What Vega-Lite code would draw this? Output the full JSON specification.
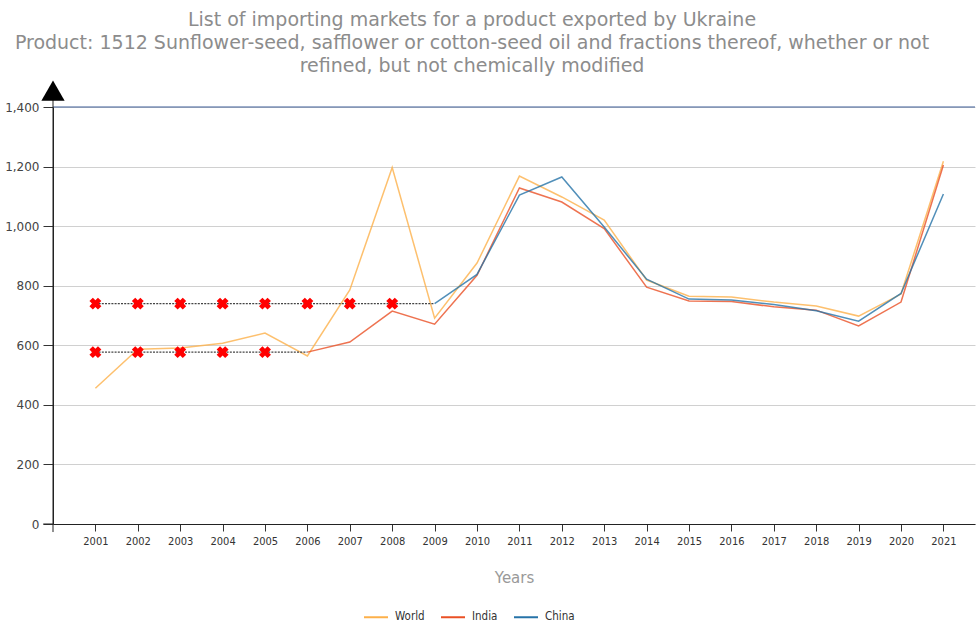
{
  "$schema": "https://vega.github.io/schema/vega-lite/v6.json",
  "width": 922,
  "height": 417,
  "autosize": {"type": "none"},
  "padding": {"left": 53, "top": 107, "right": 2, "bottom": 99},
  "background": "white",
  "title": {
    "text": [
      "List of importing markets for a product exported by Ukraine",
      "Product: 1512 Sunflower-seed, safflower or cotton-seed oil and fractions thereof, whether or not",
      "refined, but not chemically modified"
    ],
    "font": "DejaVu Sans",
    "fontSize": 19,
    "fontWeight": "normal",
    "color": "#8c8c8c",
    "anchor": "middle",
    "frame": "group",
    "dx": -42,
    "lineHeight": 23,
    "offset": 5
  },
  "config": {
    "view": {"stroke": null},
    "axis": {"labelFont": "DejaVu Sans", "titleFont": "DejaVu Sans"}
  },
  "datasets": {
    "lines": [
      {"year": 2001, "series": "World", "value": 456},
      {"year": 2002, "series": "World", "value": 587},
      {"year": 2003, "series": "World", "value": 591},
      {"year": 2004, "series": "World", "value": 607},
      {"year": 2005, "series": "World", "value": 641},
      {"year": 2006, "series": "World", "value": 564},
      {"year": 2007, "series": "World", "value": 786},
      {"year": 2008, "series": "World", "value": 1197},
      {"year": 2009, "series": "World", "value": 691},
      {"year": 2010, "series": "World", "value": 876},
      {"year": 2011, "series": "World", "value": 1168},
      {"year": 2012, "series": "World", "value": 1098},
      {"year": 2013, "series": "World", "value": 1020},
      {"year": 2014, "series": "World", "value": 819},
      {"year": 2015, "series": "World", "value": 765},
      {"year": 2016, "series": "World", "value": 762},
      {"year": 2017, "series": "World", "value": 745},
      {"year": 2018, "series": "World", "value": 732},
      {"year": 2019, "series": "World", "value": 698},
      {"year": 2020, "series": "World", "value": 772},
      {"year": 2021, "series": "World", "value": 1218},
      {"year": 2006, "series": "India", "value": 577},
      {"year": 2007, "series": "India", "value": 611},
      {"year": 2008, "series": "India", "value": 715},
      {"year": 2009, "series": "India", "value": 671},
      {"year": 2010, "series": "India", "value": 835},
      {"year": 2011, "series": "India", "value": 1128},
      {"year": 2012, "series": "India", "value": 1081},
      {"year": 2013, "series": "India", "value": 992},
      {"year": 2014, "series": "India", "value": 795},
      {"year": 2015, "series": "India", "value": 749},
      {"year": 2016, "series": "India", "value": 747},
      {"year": 2017, "series": "India", "value": 729},
      {"year": 2018, "series": "India", "value": 718},
      {"year": 2019, "series": "India", "value": 665},
      {"year": 2020, "series": "India", "value": 745},
      {"year": 2021, "series": "India", "value": 1205},
      {"year": 2009, "series": "China", "value": 740},
      {"year": 2010, "series": "China", "value": 838},
      {"year": 2011, "series": "China", "value": 1104},
      {"year": 2012, "series": "China", "value": 1165},
      {"year": 2013, "series": "China", "value": 997},
      {"year": 2014, "series": "China", "value": 822},
      {"year": 2015, "series": "China", "value": 755},
      {"year": 2016, "series": "China", "value": 752},
      {"year": 2017, "series": "China", "value": 737},
      {"year": 2018, "series": "China", "value": 716},
      {"year": 2019, "series": "China", "value": 681},
      {"year": 2020, "series": "China", "value": 774},
      {"year": 2021, "series": "China", "value": 1108}
    ],
    "gaps": [
      {"year": 2001, "series": "China", "value": 740, "est": true},
      {"year": 2002, "series": "China", "value": 740, "est": true},
      {"year": 2003, "series": "China", "value": 740, "est": true},
      {"year": 2004, "series": "China", "value": 740, "est": true},
      {"year": 2005, "series": "China", "value": 740, "est": true},
      {"year": 2006, "series": "China", "value": 740, "est": true},
      {"year": 2007, "series": "China", "value": 740, "est": true},
      {"year": 2008, "series": "China", "value": 740, "est": true},
      {"year": 2009, "series": "China", "value": 740, "est": false},
      {"year": 2001, "series": "India", "value": 577, "est": true},
      {"year": 2002, "series": "India", "value": 577, "est": true},
      {"year": 2003, "series": "India", "value": 577, "est": true},
      {"year": 2004, "series": "India", "value": 577, "est": true},
      {"year": 2005, "series": "India", "value": 577, "est": true},
      {"year": 2006, "series": "India", "value": 577, "est": false}
    ]
  },
  "layer": [
    {
      "data": {"values": [{}]},
      "mark": {"type": "rule", "color": "#3f5f97", "strokeWidth": 1.2},
      "encoding": {"y": {"datum": 1400, "type": "quantitative"}}
    },
    {
      "data": {"name": "lines"},
      "mark": {"type": "line", "strokeWidth": 1.5, "opacity": 0.8},
      "encoding": {
        "x": {
          "field": "year",
          "type": "quantitative",
          "scale": {"domain": [2000, 2021.745], "nice": false, "zero": false},
          "axis": {
            "title": "Years",
            "values": [2001, 2002, 2003, 2004, 2005, 2006, 2007, 2008, 2009, 2010, 2011, 2012, 2013, 2014, 2015, 2016, 2017, 2018, 2019, 2020, 2021],
            "format": "d",
            "grid": false,
            "labelFont": "DejaVu Sans Condensed",
            "labelFontSize": 11,
            "labelColor": "#333",
            "labelPadding": 4,
            "labelFlush": false,
            "labelOverlap": false,
            "tickColor": "#333",
            "tickSize": 7,
            "domainColor": "#222",
            "titleFont": "DejaVu Sans",
            "titleFontSize": 15,
            "titleFontWeight": "normal",
            "titleColor": "#999",
            "titlePadding": 24
          }
        },
        "y": {
          "field": "value",
          "type": "quantitative",
          "scale": {"domain": [0, 1400], "nice": false},
          "axis": {
            "title": null,
            "values": [0, 200, 400, 600, 800, 1000, 1200, 1400],
            "format": ",.0f",
            "grid": true,
            "gridColor": "#d0d0d0",
            "labelFont": "DejaVu Sans",
            "labelFontSize": 12,
            "labelColor": "#444",
            "labelPadding": 4,
            "tickColor": "#333",
            "tickSize": 10,
            "domainColor": "#222"
          }
        },
        "color": {
          "field": "series",
          "type": "nominal",
          "scale": {"domain": ["World", "India", "China"], "range": ["#FDB04A", "#EA5025", "#2673A8"]},
          "legend": {
            "orient": "none",
            "legendX": 310,
            "legendY": 497,
            "direction": "horizontal",
            "title": null,
            "symbolType": "stroke",
            "symbolSize": 576,
            "symbolStrokeWidth": 2,
            "symbolOpacity": 1,
            "labelFont": "DejaVu Sans Condensed",
            "labelFontSize": 11.5,
            "labelColor": "#333",
            "labelOffset": 6,
            "columnPadding": 12,
            "padding": 0
          }
        },
        "order": {"field": "year", "type": "quantitative"}
      }
    },
    {
      "data": {"name": "gaps"},
      "mark": {"type": "line", "color": "#444", "strokeWidth": 1.4, "strokeDash": [2, 1.2]},
      "encoding": {
        "x": {"field": "year", "type": "quantitative"},
        "y": {"field": "value", "type": "quantitative"},
        "detail": {"field": "series"}
      }
    },
    {
      "data": {"name": "gaps"},
      "transform": [{"filter": "datum.est"}],
      "mark": {"type": "point", "shape": "cross", "angle": 45, "filled": true, "color": "#ff0000", "size": 145, "opacity": 1},
      "encoding": {
        "x": {"field": "year", "type": "quantitative"},
        "y": {"field": "value", "type": "quantitative"}
      }
    },
    {
      "data": {"values": [{}]},
      "mark": {"type": "rule", "color": "#222", "strokeWidth": 1, "clip": false},
      "encoding": {
        "x": {"datum": 2000, "type": "quantitative"},
        "y": {"datum": -27, "type": "quantitative"},
        "y2": {"datum": 1455}
      }
    },
    {
      "data": {"values": [{}]},
      "mark": {"type": "rule", "color": "#222", "strokeWidth": 1, "clip": false},
      "encoding": {
        "x": {"datum": 1999.77, "type": "quantitative"},
        "x2": {"datum": 2000},
        "y": {"datum": 0, "type": "quantitative"}
      }
    },
    {
      "data": {"values": [{}]},
      "mark": {"type": "point", "shape": "triangle-up", "filled": true, "color": "#000", "size": 540, "opacity": 1, "clip": false},
      "encoding": {
        "x": {"datum": 2000, "type": "quantitative"},
        "y": {"datum": 1455, "type": "quantitative"}
      }
    }
  ]
}
